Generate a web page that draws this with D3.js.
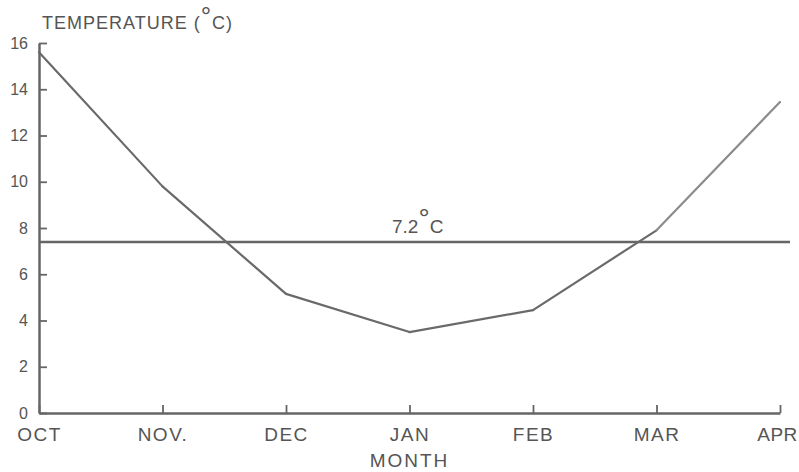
<!DOCTYPE html>
<html>
<head>
<meta charset="utf-8">
<script src="https://cdn.jsdelivr.net/npm/d3@7"></script>
<style>
  body { margin: 0; background: #fff; }
  text { font-family: "Liberation Sans", Arial, sans-serif; fill: #555; }
</style>
</head>
<body>
<script>
// months on the x axis and mean temperature
var months = ["OCT", "NOV.", "DEC", "JAN", "FEB", "MAR", "APR"];
var temps = [15.6, 9.8, 5.15, 3.5, 4.45, 7.9, 13.45];
var yTicks = [0, 2, 4, 6, 8, 10, 12, 14, 16];
var refValue = 7.4;          // where the mean line sits on the chart
var refLabel = "7.2";        // its printed label

var width = 799, height = 472;
var ink = "#666";

var svg = d3.select("body").append("svg")
    .attr("width", width)
    .attr("height", height);

var x = d3.scalePoint().domain(months).range([39, 780]);
var y = d3.scaleLinear().domain([0, 16]).range([413, 43]);

// y axis, ticks pointing inwards
var yAxis = svg.append("g")
    .attr("transform", "translate(" + x(months[0]) + ",0)")
    .call(d3.axisLeft(y).tickValues(yTicks).tickSizeInner(-8).tickSizeOuter(0).tickPadding(11));
yAxis.selectAll("text").style("font-size", "16px").attr("fill", "#555");

// x axis, ticks pointing up
var xAxis = svg.append("g")
    .attr("transform", "translate(0," + y(0) + ")")
    .call(d3.axisBottom(x).tickSizeInner(-8).tickSizeOuter(0).tickPadding(15));
xAxis.selectAll("text")
    .style("font-size", "19px")
    .style("letter-spacing", function(d) { return d == "APR" ? "0.5px" : "1.5px"; })
    .attr("dx", function(d) { return d == "APR" ? -3 : 0; })
    .attr("fill", "#555");

svg.selectAll(".domain").attr("stroke", ink).attr("stroke-width", 2.5);
svg.selectAll(".tick line").attr("stroke", ink).attr("stroke-width", 1.8);

// mean temperature line
svg.append("line")
    .attr("x1", x(months[0])).attr("x2", 790)
    .attr("y1", y(refValue)).attr("y2", y(refValue))
    .attr("stroke", ink).attr("stroke-width", 2.5);

var ref = svg.append("text")
    .attr("x", 392).attr("y", y(refValue) - 9)
    .style("font-size", "19px");
ref.append("tspan").text(refLabel);
ref.append("tspan").attr("dy", -5).style("font-size", "28px").text("°");
ref.append("tspan").attr("dy", 5).text("C");

// temperature line, segment by segment (last one is fainter in the print)
var pts = months.map(function(m, i) { return [x(m), y(temps[i])]; });
svg.append("g").selectAll("line")
    .data(d3.pairs(pts))
    .enter().append("line")
    .attr("x1", function(d) { return d[0][0]; })
    .attr("y1", function(d) { return d[0][1]; })
    .attr("x2", function(d) { return d[1][0]; })
    .attr("y2", function(d) { return d[1][1]; })
    .attr("stroke", function(d, i) { return i == pts.length - 2 ? "#8c8c8c" : "#6a6a6a"; })
    .attr("stroke-width", 2.2)
    .attr("stroke-linecap", "round");

// axis titles
var title = svg.append("text")
    .attr("x", 42).attr("y", 29)
    .style("font-size", "18px").style("letter-spacing", "1px");
title.append("tspan").text("TEMPERATURE (");
title.append("tspan").attr("dy", -4).style("font-size", "26px").text("°");
title.append("tspan").attr("dy", 4).text("C)");

svg.append("text")
    .attr("x", x("JAN")).attr("y", 467)
    .attr("text-anchor", "middle")
    .style("font-size", "19px").style("letter-spacing", "2px")
    .text("MONTH");
</script>
</body>
</html>
